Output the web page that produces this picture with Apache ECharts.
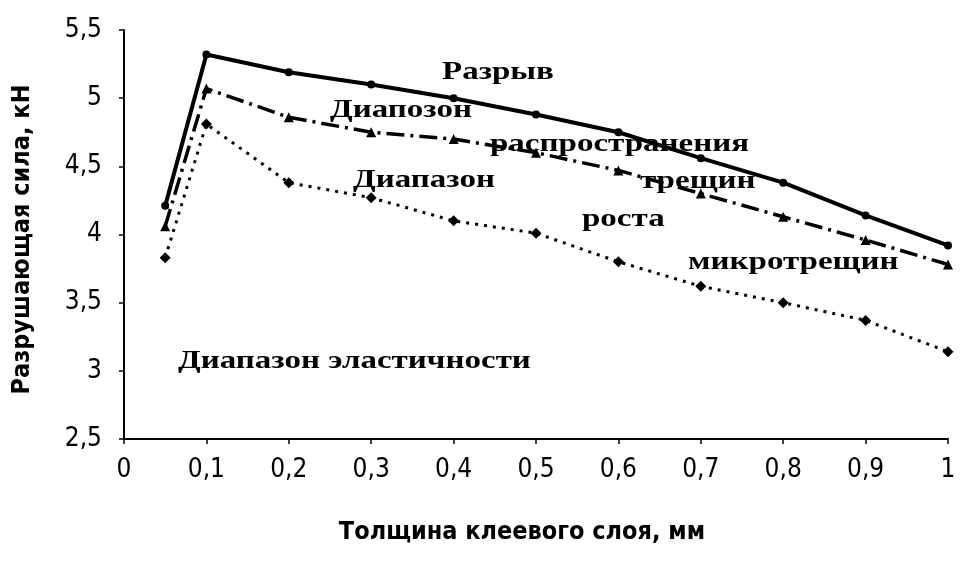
<!DOCTYPE html>
<html><head><meta charset="utf-8">
<script src="https://cdn.jsdelivr.net/npm/echarts@6/dist/echarts.min.js"></script>
<style>html,body{margin:0;padding:0;background:#fff}#c{width:979px;height:566px}</style>
</head><body><div id="c"></div>
<script>
const xRupture = [0.05, 0.1, 0.2, 0.3, 0.4, 0.5, 0.6, 0.7, 0.8, 0.9, 1.0];
const rupture = [4.21, 5.32, 5.19, 5.10, 5.00, 4.88, 4.75, 4.56, 4.38, 4.14, 3.92];
const xProp = [0.05, 0.1, 0.2, 0.3, 0.4, 0.5, 0.6, 0.7, 0.8, 0.9, 1.0];
const propagation = [4.06, 5.07, 4.86, 4.75, 4.70, 4.60, 4.47, 4.30, 4.13, 3.96, 3.78];
const xMicro = [0.05, 0.1, 0.2, 0.3, 0.4, 0.5, 0.6, 0.7, 0.8, 0.9, 1.0];
const microcrack = [3.83, 4.81, 4.38, 4.27, 4.10, 4.01, 3.80, 3.62, 3.50, 3.37, 3.14];
const annotations = [
  {text: 'Разрыв', x: 442, y: 80},
  {text: 'Диапозон', x: 330, y: 118},
  {text: 'распространения', x: 490, y: 152},
  {text: 'трещин', x: 640, y: 189},
  {text: 'Диапазон', x: 353, y: 188},
  {text: 'роста', x: 582, y: 227},
  {text: 'микротрещин', x: 688, y: 270},
  {text: 'Диапазон эластичности', x: 178, y: 369}
];
const pair = (xs, ys) => xs.map((x, i) => [x, ys[i]]);
const comma = v => String(+v.toFixed(2)).replace('.', ',');
const tickFont = "'Liberation Sans Narrow','DejaVu Sans Condensed',sans-serif";
const BASELINE_SHIFT = 21;
const chart = echarts.init(document.getElementById('c'));
chart.setOption({
  backgroundColor: '#fff',
  animation: false,
  grid: {left: 124, right: 31, top: 30, bottom: 127},
  xAxis: {
    type: 'value', min: 0, max: 1, interval: 0.1,
    name: 'Толщина клеевого слоя, мм', nameLocation: 'middle', nameGap: 81,
    nameTextStyle: {fontFamily: tickFont, fontWeight: 'bold', fontSize: 25, color: '#000', padding: [0, 28, 0, 0]},
    axisLine: {lineStyle: {color: '#000', width: 2}},
    axisTick: {show: true, length: 5, lineStyle: {color: '#000', width: 1.5}},
    axisLabel: {formatter: comma, fontFamily: tickFont, fontSize: 26, color: '#000', margin: 18},
    splitLine: {show: false}
  },
  yAxis: {
    type: 'value', min: 2.5, max: 5.5, interval: 0.5,
    name: 'Разрушающая сила, кН', nameLocation: 'middle', nameGap: 89,
    nameTextStyle: {fontFamily: tickFont, fontWeight: 'bold', fontSize: 25, color: '#000', padding: [0, 10, 0, 0]},
    axisLine: {show: true, lineStyle: {color: '#000', width: 2}},
    axisTick: {show: true, length: 5, lineStyle: {color: '#000', width: 1.5}},
    axisLabel: {formatter: comma, fontFamily: tickFont, fontSize: 26, color: '#000', margin: 22},
    splitLine: {show: false}
  },
  series: [
    {type: 'line', data: pair(xRupture, rupture), symbol: 'circle', symbolSize: 8,
     itemStyle: {color: '#000'}, lineStyle: {color: '#000', width: 4}},
    {type: 'line', data: pair(xProp, propagation), symbol: 'triangle', symbolSize: 10,
     itemStyle: {color: '#000'}, lineStyle: {color: '#000', width: 3.5, type: [18, 6, 3, 6]}},
    {type: 'line', data: pair(xMicro, microcrack), symbol: 'diamond', symbolSize: 11,
     itemStyle: {color: '#000'}, lineStyle: {color: '#000', width: 3, type: [3, 6]}}
  ],
  graphic: annotations.map(a => ({
    type: 'text', x: a.x, y: a.y - BASELINE_SHIFT, scaleX: 1.27, z: 100,
    style: {text: a.text, x: 0, y: 0, fill: '#000', align: 'left',
            font: "bold 26px 'Liberation Serif','DejaVu Serif',serif"}
  }))
});
</script></body></html>
